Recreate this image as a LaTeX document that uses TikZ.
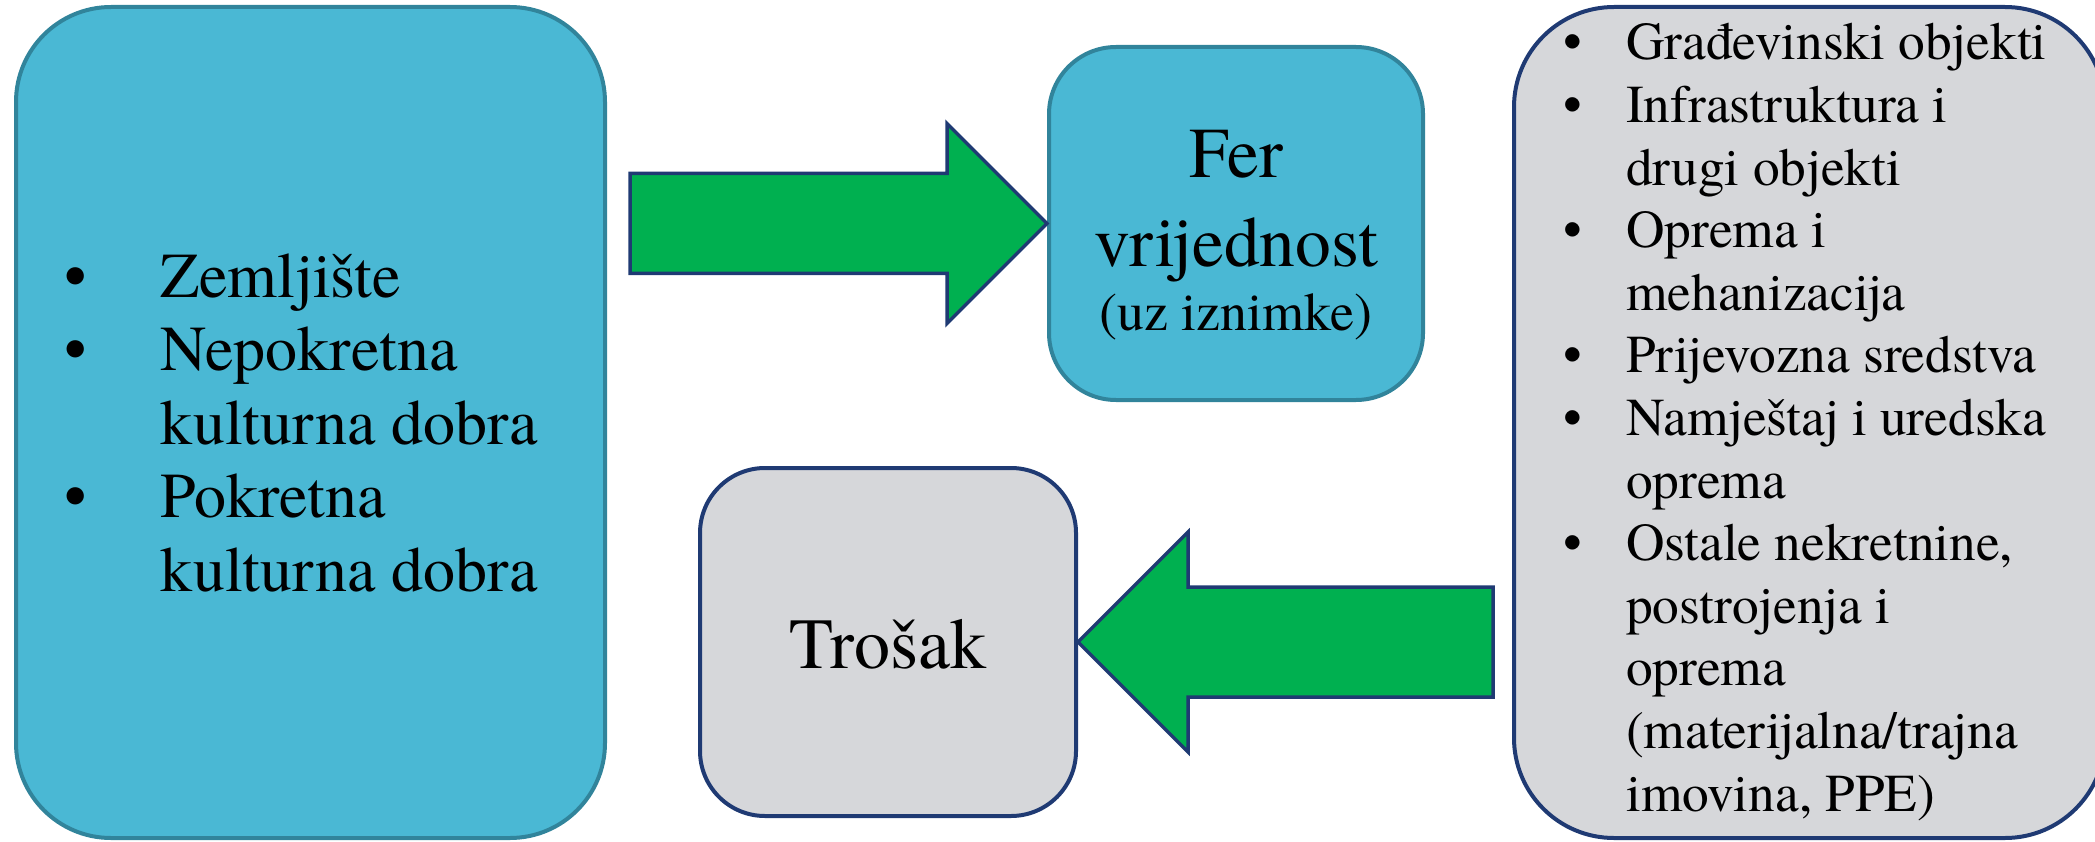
\documentclass[tikz,border=0pt]{standalone}
\usepackage{fontspec}
\setmainfont{TeX Gyre Termes}
\definecolor{Aqua}{HTML}{4AB8D4}
\definecolor{AquaLine}{HTML}{31849B}
\definecolor{Grey}{HTML}{D6D7DA}
\definecolor{Navy}{HTML}{1F3A73}
\definecolor{Green}{HTML}{00B050}

\begin{document}
\begin{tikzpicture}[x=1pt, y=-1pt,
  aquabox/.style={draw=AquaLine, fill=Aqua, line width=4pt},
  greybox/.style={draw=Navy, fill=Grey, line width=4pt},
  blockarrow/.style={draw=Navy, fill=Green, line width=3.5pt, line join=miter},
  list/.style={inner sep=0pt, anchor=base west},
  word/.style={inner sep=0pt, anchor=base}]
\useasboundingbox (0,0) rectangle (2095,842);

% boxes
\node[aquabox, rounded corners=95pt, minimum width=589pt, minimum height=831pt] (land) at (310.5,422.5) {};
\node[aquabox, rounded corners=67pt, minimum width=374pt, minimum height=353pt] (fer) at (1236,223.5) {};
\node[greybox, rounded corners=65pt, minimum width=376pt, minimum height=348pt] (cost) at (888,642) {};
\node[greybox, rounded corners=100pt, minimum width=591pt, minimum height=831pt] (ppe) at (1809.5,422.5) {};

% texts
\node[list, font=\fontsize{64}{73.5}\selectfont] (landlist) at (64,297) {%
\begin{tabular}[t]{@{}p{96pt}@{}l@{}}
\textbullet & Zemljište\\
\textbullet & Nepokretna\\
 & kulturna dobra\\
\textbullet & Pokretna\\
 & kulturna dobra
\end{tabular}};

\node[word, font=\fontsize{71.5}{80}\selectfont] (fername) at (1236,178) {Fer};
\node[word, font=\fontsize{71.5}{80}\selectfont] (fervalue) at (1236,267) {vrijednost};
\node[word, font=\fontsize{54}{60}\selectfont] (ferexcept) at (1236,330) {(uz iznimke)};

\node[word, font=\fontsize{72}{80}\selectfont] (costname) at (888,668) {Trošak};

\node[list, font=\fontsize{53.3}{62.6}\selectfont] (ppelist) at (1563,60) {%
\begin{tabular}[t]{@{}p{63pt}@{}l@{}}
\textbullet & Građevinski objekti\\
\textbullet & Infrastruktura i\\
 & drugi objekti\\
\textbullet & Oprema i\\
 & mehanizacija\\
\textbullet & Prijevozna sredstva\\
\textbullet & Namještaj i uredska\\
 & oprema\\
\textbullet & Ostale nekretnine,\\
 & postrojenja i\\
 & oprema\\
 & (materijalna/trajna\\
 & imovina, PPE)
\end{tabular}};

% block arrows
\draw[blockarrow] (fer.west) -- ++(-100,-100) -- ++(0,50) -- ++(-317,0)
  -- ++(0,100) -- ++(317,0) -- ++(0,50) -- cycle;
\draw[blockarrow] (cost.east) -- ++(110,-110) -- ++(0,55) -- ++(305,0)
  -- ++(0,110) -- ++(-305,0) -- ++(0,55) -- cycle;

\end{tikzpicture}
\end{document}
